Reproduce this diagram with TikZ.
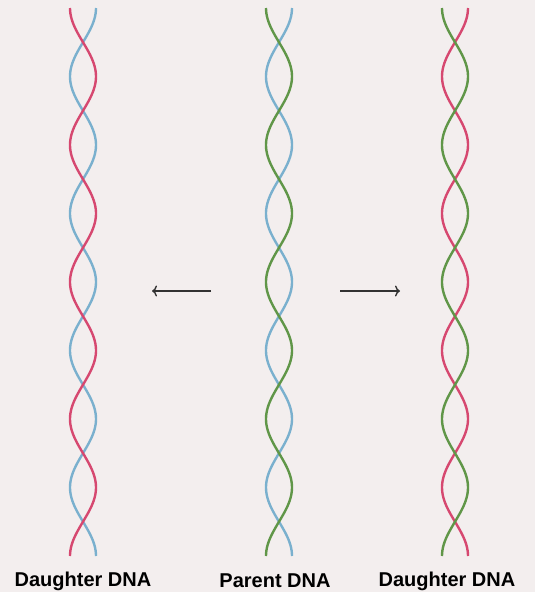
\documentclass[tikz,border=0pt]{standalone}
\usepackage{fontspec}
\setmainfont{Liberation Sans}
\usetikzlibrary{arrows.meta}

\definecolor{strandred}{RGB}{214,72,112}
\definecolor{strandblue}{RGB}{122,176,206}
\definecolor{strandgreen}{RGB}{96,150,72}
\definecolor{paper}{RGB}{243,238,238}
\definecolor{ink}{RGB}{50,50,50}

\begin{document}
\begin{tikzpicture}[x=1pt,y=-1pt,
  strand/.style={line width=2.4pt},
  split/.style={ink,line width=1.4pt,-{To[length=5pt,width=11pt]}},
  dnaname/.style={font=\bfseries\fontsize{20}{22}\selectfont,inner sep=0pt}]
\useasboundingbox (0,0) rectangle (535,592);
\fill[paper] (0,0) rectangle (535,592);

% centre x / strand starting left / strand starting right
% one half turn every 68.5pt, i.e. 2.628 degrees per pt
\foreach \cx/\ca/\cb in {83/strandred/strandblue,
                         279/strandgreen/strandblue,
                         455/strandgreen/strandred} {
  \draw[strand,\cb] plot[domain=8:556,samples=200,smooth]
    ({\cx+13*cos(2.628*(\x-8))},\x);
  \draw[strand,\ca] plot[domain=8:556,samples=200,smooth]
    ({\cx-13*cos(2.628*(\x-8))},\x);
}

\coordinate (ltail) at (211,291);
\coordinate (lhead) at (152,291);
\coordinate (rtail) at (340,291);
\coordinate (rhead) at (400,291);
\draw[split] (ltail) -- (lhead);
\draw[split] (rtail) -- (rhead);

\node[dnaname] (lname) at (83,581) {Daughter DNA};
\node[dnaname] (pname) at (275,581) {Parent DNA};
\node[dnaname] (rname) at (447,581) {Daughter DNA};

\end{tikzpicture}
\end{document}
